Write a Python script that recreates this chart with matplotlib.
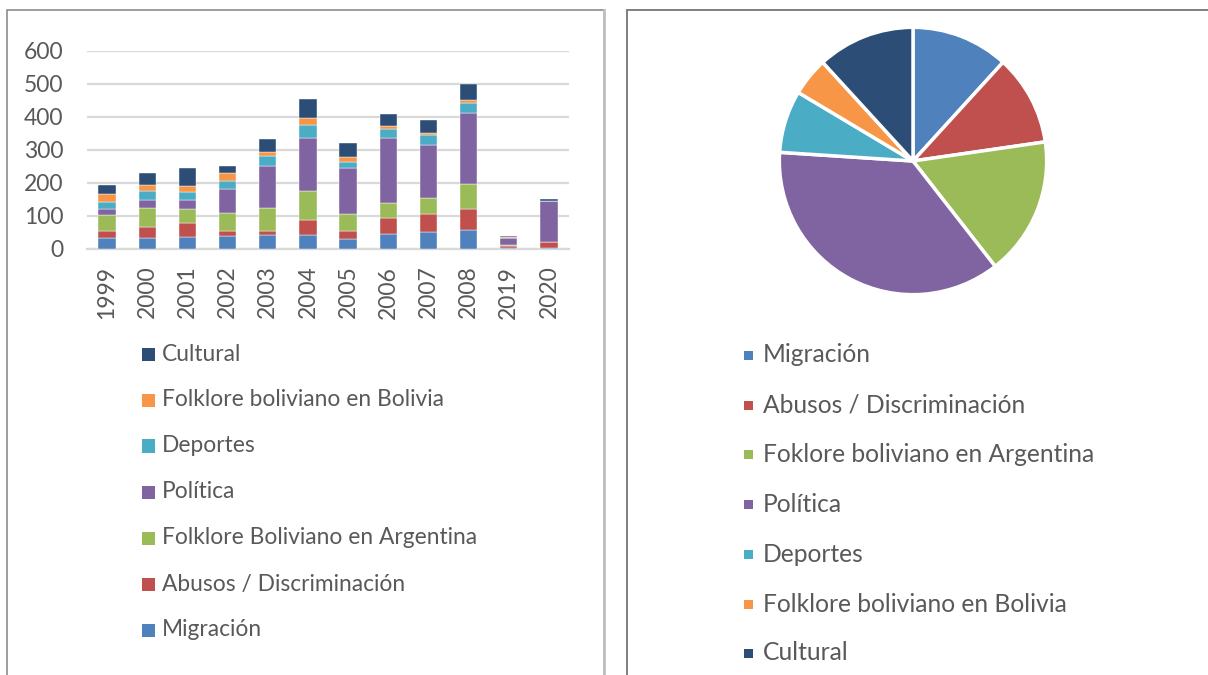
import matplotlib
matplotlib.use("Agg")
import matplotlib.pyplot as plt
from matplotlib.patches import Rectangle
import numpy as np

plt.rcParams['font.family'] = ['Lato', 'DejaVu Sans']

years = ["1999", "2000", "2001", "2002", "2003", "2004", "2005", "2006", "2007", "2008", "2019", "2020"]
migracion = [33, 33, 35, 38, 43, 43, 31, 45, 50, 59, 2, 2]
abusos = [20, 33, 44, 17, 10, 46, 22, 50, 57, 62, 6, 18]
folk_arg = [50, 59, 42, 53, 72, 86, 53, 45, 47, 77, 5, 0]
politica = [19, 22, 28, 75, 127, 162, 139, 196, 162, 212, 20, 125]
deportes = [21, 30, 22, 22, 28, 37, 18, 26, 28, 31, 1, 1]
folk_bol = [23, 17, 21, 24, 14, 22, 15, 9, 8, 9, 1, 0]
cultural = [28, 35, 53, 22, 39, 59, 44, 38, 39, 48, 5, 5]

bar_labels = ["Migración", "Abusos / Discriminación", "Folklore Boliviano en Argentina",
              "Política", "Deportes", "Folklore boliviano en Bolivia", "Cultural"]
pie_labels = ["Migración", "Abusos / Discriminación", "Foklore boliviano en Argentina",
              "Política", "Deportes", "Folklore boliviano en Bolivia", "Cultural"]
yticks = [0, 100, 200, 300, 400, 500, 600]

colors = ["#4F81BD", "#C0504D", "#9BBB59", "#8064A2", "#4BACC6", "#F79646", "#2C4D75"]
series = [migracion, abusos, folk_arg, politica, deportes, folk_bol, cultural]

W, H = 1208, 675
fig = plt.figure(figsize=(W / 100, H / 100), dpi=100)
TXT = "#595959"

def fx(x):
    return x / W

def fy(y):
    return 1 - y / H

# panel borders
fig.add_artist(Rectangle((fx(7), fy(700)), fx(597), fy(10) - fy(700), transform=fig.transFigure,
                         fill=False, edgecolor="#8C8C8C", linewidth=1.2))
fig.add_artist(plt.Line2D([fx(604), fx(604)], [fy(10), fy(700)], transform=fig.transFigure,
                          color="#C0C0C0", linewidth=2.0))
fig.add_artist(Rectangle((fx(627), fy(700)), fx(700), fy(10) - fy(700), transform=fig.transFigure,
                         fill=False, edgecolor="#7F7F7F", linewidth=1.4))

# bar chart
ax = fig.add_axes([fx(87), fy(249), fx(569 - 87), fy(50.7) - fy(249)])
x = np.arange(len(years))
bottom = np.zeros(len(years))
for vals, c in zip(series, colors):
    ax.bar(x, vals, width=0.43, bottom=bottom, color=c, edgecolor="white", linewidth=0.3, zorder=3)
    bottom += np.array(vals)
ax.set_xlim(-0.5, len(years) - 0.5)
ax.set_ylim(0, 600)
ax.set_yticks(yticks)
ax.set_yticklabels([str(t) for t in yticks], fontsize=16.5, color=TXT)
ax.set_xticks(x)
ax.set_xticklabels(years, rotation=90, fontsize=16.5, color=TXT)
ax.tick_params(axis='y', length=0, pad=17)
ax.tick_params(axis='x', length=0, pad=12)
ax.grid(axis='y', color="#D9D9D9", linewidth=1.6, zorder=0)
for s in ["top", "right", "left"]:
    ax.spines[s].set_visible(False)
ax.spines["bottom"].set_color("#D9D9D9")
ax.spines["bottom"].set_linewidth(1.6)

# left legend (reverse order)
left_rows = [354, 400, 446, 492, 538, 584, 630]
for i, yy in enumerate(left_rows):
    k = len(bar_labels) - 1 - i
    fig.add_artist(Rectangle((fx(142), fy(yy + 6.5)), fx(13), fy(yy - 6.5) - fy(yy + 6.5),
                             transform=fig.transFigure, facecolor=colors[k], edgecolor="none"))
    fig.text(fx(162), fy(yy), bar_labels[k], fontsize=16.4, color=TXT, va="center", ha="left")

# pie chart
totals = [sum(s) for s in series]
cx, cy, r = 913, 161, 135
pax = fig.add_axes([fx(cx - r), fy(cy + r), fx(2 * r), fy(cy - r) - fy(cy + r)])
pax.pie(totals, colors=colors, startangle=90, counterclock=False,
        wedgeprops=dict(edgecolor="white", linewidth=2.5))
pax.set_xlim(-1.01, 1.01)
pax.set_ylim(-1.01, 1.01)
pax.set_aspect('equal')

right_rows = [355, 405, 454, 504, 554, 604, 653]
for k, yy in enumerate(right_rows):
    fig.add_artist(Rectangle((fx(744), fy(yy + 4.5)), fx(9), fy(yy - 4.5) - fy(yy + 4.5),
                             transform=fig.transFigure, facecolor=colors[k], edgecolor="none"))
    fig.text(fx(763), fy(yy), pie_labels[k], fontsize=17.7, color=TXT, va="center", ha="left")

fig.savefig("out.png", dpi=100, facecolor="white")
